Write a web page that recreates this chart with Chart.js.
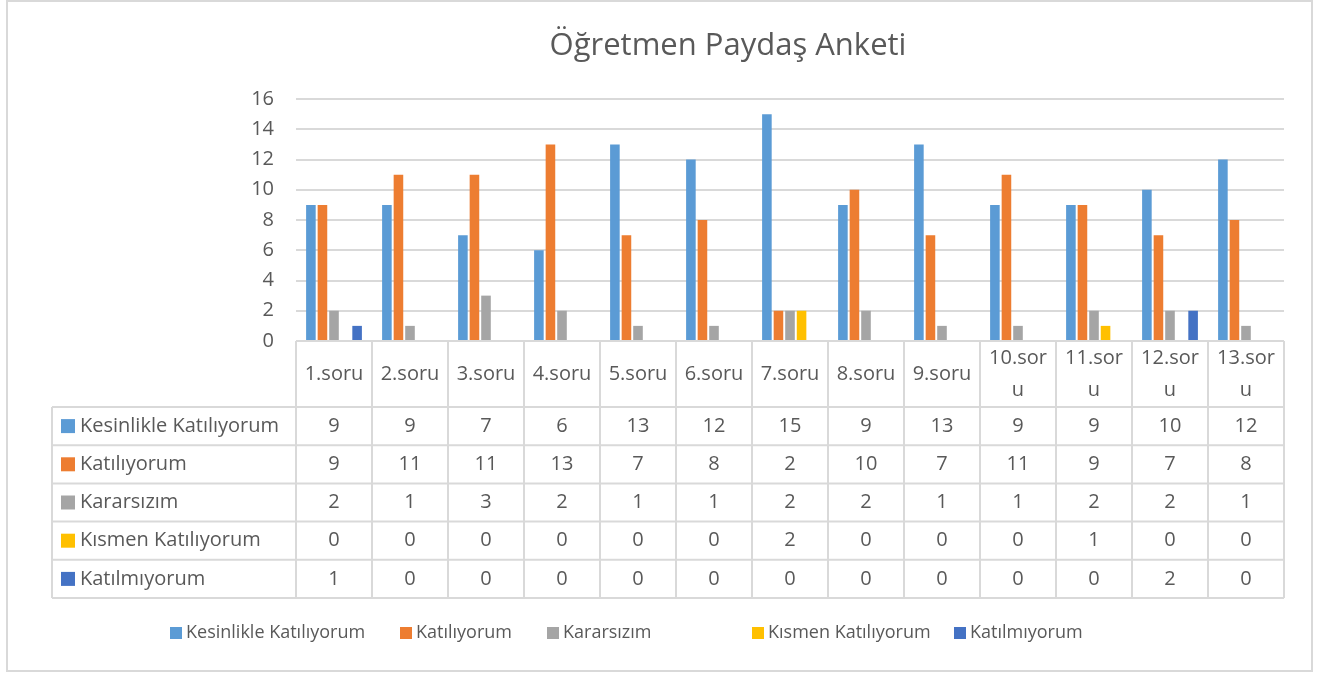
<!DOCTYPE html>
<html lang="tr">
<head>
<meta charset="utf-8">
<title>Öğretmen Paydaş Anketi</title>
<script src="https://cdn.jsdelivr.net/npm/chart.js@4/dist/chart.umd.min.js"></script>
<style>
  html, body { margin: 0; padding: 0; background: #fff; }
  canvas { display: block; }
</style>
</head>
<body>
<canvas id="surveyChart" width="1330" height="673"></canvas>
<script>
// Chart data
const categories = ['1.soru', '2.soru', '3.soru', '4.soru', '5.soru', '6.soru', '7.soru',
                    '8.soru', '9.soru', '10.soru', '11.soru', '12.soru', '13.soru'];
const seriesNames = ['Kesinlikle Katılıyorum', 'Katılıyorum', 'Kararsızım', 'Kısmen Katılıyorum', 'Katılmıyorum'];
const kesinlikleKatiliyorum = [9, 9, 7, 6, 13, 12, 15, 9, 13, 9, 9, 10, 12];
const katiliyorum = [9, 11, 11, 13, 7, 8, 2, 10, 7, 11, 9, 7, 8];
const kararsizim = [2, 1, 3, 2, 1, 1, 2, 2, 1, 1, 2, 2, 1];
const kismenKatiliyorum = [0, 0, 0, 0, 0, 0, 2, 0, 0, 0, 1, 0, 0];
const katilmiyorum = [1, 0, 0, 0, 0, 0, 0, 0, 0, 0, 0, 2, 0];
const yTicks = [0, 2, 4, 6, 8, 10, 12, 14, 16];
const chartTitle = 'Öğretmen Paydaş Anketi';

const seriesValues = [kesinlikleKatiliyorum, katiliyorum, kararsizim, kismenKatiliyorum, katilmiyorum];
const seriesColors = ['#5B9BD5', '#ED7D31', '#A5A5A5', '#FFC000', '#4472C4'];

const FONT = '"Open Sans", "Noto Sans", sans-serif';
const TEXT_COLOR = '#595959';
const LINE_COLOR = '#D9D9D9';

/**
 * Title, data table, legend and frame drawn around the plot
 */
const tableAndLegend = {
    id: 'tableAndLegend',
    afterDraw(chart) {
        const ctx = chart.ctx;
        const area = chart.chartArea;
        const xs = chart.scales.x;
        const colW = area.width / categories.length;

        const headerTop = area.bottom;
        const headerBottom = 407;
        const rowH = 38.2;
        const tableLeft = 52;
        const tableBottom = headerBottom + rowH * seriesNames.length;

        ctx.save();

        // outer frame
        ctx.strokeStyle = LINE_COLOR;
        ctx.lineWidth = 2;
        ctx.strokeRect(7, 1, 1305, 670);

        // title
        ctx.fillStyle = TEXT_COLOR;
        ctx.font = '31px ' + FONT;
        ctx.textAlign = 'center';
        ctx.textBaseline = 'middle';
        ctx.fillText(chartTitle, 728, 46);

        // table grid
        ctx.strokeStyle = LINE_COLOR;
        ctx.lineWidth = 2;
        ctx.beginPath();
        ctx.moveTo(area.left, headerTop);
        ctx.lineTo(area.right, headerTop);
        for (let r = 0; r <= seriesNames.length; r++) {
            const y = headerBottom + r * rowH;
            ctx.moveTo(tableLeft, y);
            ctx.lineTo(area.right, y);
        }
        for (let i = 0; i <= categories.length; i++) {
            const x = area.left + i * colW;
            ctx.moveTo(x, headerTop);
            ctx.lineTo(x, tableBottom);
        }
        ctx.moveTo(tableLeft, headerBottom);
        ctx.lineTo(tableLeft, tableBottom);
        ctx.stroke();

        // header labels (wrapped like Excel when too wide)
        ctx.font = '20px ' + FONT;
        ctx.fillStyle = TEXT_COLOR;
        categories.forEach((label, i) => {
            const cx = xs.getPixelForValue(i);
            const midY = (headerTop + headerBottom) / 2;
            if (ctx.measureText(label).width > colW - 10) {
                let cut = label.length - 1;
                while (cut > 1 && ctx.measureText(label.slice(0, cut)).width > colW - 10) cut--;
                ctx.fillText(label.slice(0, cut), cx, midY - 16);
                ctx.fillText(label.slice(cut), cx, midY + 16);
            } else {
                ctx.fillText(label, cx, midY);
            }
        });

        // rows
        seriesNames.forEach((name, r) => {
            const cy = headerBottom + r * rowH + rowH / 2;
            ctx.fillStyle = seriesColors[r];
            ctx.fillRect(61, cy - 7, 14, 14);
            ctx.fillStyle = TEXT_COLOR;
            ctx.textAlign = 'left';
            ctx.fillText(name, 80, cy);
            ctx.textAlign = 'center';
            seriesValues[r].forEach((v, i) => {
                ctx.fillText(String(v), xs.getPixelForValue(i), cy);
            });
        });

        // legend
        const legendX = [170, 400, 547, 752, 954];
        const legendY = 633;
        ctx.font = '18px ' + FONT;
        ctx.textAlign = 'left';
        seriesNames.forEach((name, r) => {
            ctx.fillStyle = seriesColors[r];
            ctx.fillRect(legendX[r], legendY - 6, 12, 12);
            ctx.fillStyle = TEXT_COLOR;
            ctx.fillText(name, legendX[r] + 16, legendY);
        });

        ctx.restore();
    }
};

const chartCanvas = document.getElementById('surveyChart');

const surveyChart = new Chart(chartCanvas.getContext('2d'), {
    type: 'bar',
    data: {
        labels: categories,
        datasets: seriesNames.map((name, i) => ({
            label: name,
            data: seriesValues[i],
            backgroundColor: seriesColors[i],
            borderWidth: 0,
            categoryPercentage: 0.76,
            barPercentage: 0.83
        }))
    },
    options: {
        responsive: false,
        animation: false,
        devicePixelRatio: 1,
        layout: {
            padding: { left: 250, right: 46, top: 99, bottom: 332 }
        },
        plugins: {
            legend: { display: false },
            title: { display: false },
            tooltip: { enabled: false }
        },
        scales: {
            x: {
                display: false
            },
            y: {
                min: 0,
                max: 16,
                afterFit(scale) {
                    scale.width = 46;
                },
                afterBuildTicks(scale) {
                    scale.ticks = yTicks.map(v => ({ value: v }));
                },
                border: { display: false },
                grid: {
                    color: LINE_COLOR,
                    lineWidth: 2,
                    drawTicks: false
                },
                ticks: {
                    color: TEXT_COLOR,
                    padding: 22,
                    font: { family: FONT, size: 20 }
                }
            }
        }
    },
    plugins: [tableAndLegend]
});
</script>
</body>
</html>
